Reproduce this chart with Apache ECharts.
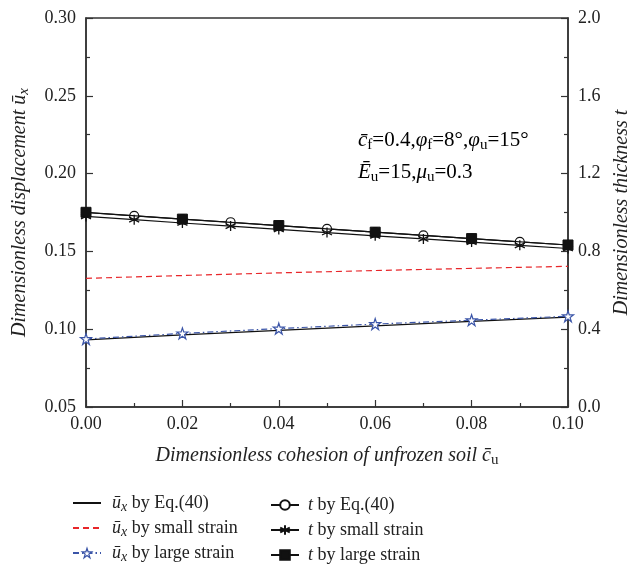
<!DOCTYPE html>
<html>
<head>
<meta charset="utf-8">
<script src="https://cdn.jsdelivr.net/npm/echarts@6/dist/echarts.min.js"></script>
<style>
  html, body { margin: 0; padding: 0; background: #fff; }
  #chart { width: 630px; height: 569px; }
</style>
</head>
<body>
<div id="chart"></div>
<script>
// Dimensionless cohesion of unfrozen soil (x values)
const cuCoarse = [0.00, 0.02, 0.04, 0.06, 0.08, 0.10];
const cuFine = [0.00, 0.01, 0.02, 0.03, 0.04, 0.05, 0.06, 0.07, 0.08, 0.09, 0.10];

// Dimensionless displacement (left axis)
const uxEq40 = [0.0932, 0.0963, 0.0993, 0.1022, 0.1050, 0.1078];
const uxSmall = [0.1327, 0.1345, 0.1362, 0.1377, 0.1391, 0.1404];
const uxLarge = [0.0937, 0.0973, 0.1004, 0.1033, 0.1058, 0.1083];

// Dimensionless thickness (right axis)
const tEq40 = [1.000, 0.983, 0.966, 0.950, 0.933, 0.916, 0.899, 0.882, 0.866, 0.849, 0.833];
const tSmall = [0.980, 0.963, 0.946, 0.930, 0.913, 0.897, 0.880, 0.864, 0.848, 0.831, 0.815];
const tLarge = [1.001, 0.966, 0.933, 0.899, 0.866, 0.833];

// Axis tick settings
const xTicks = { min: 0, max: 0.10, interval: 0.02, digits: 2 };
const yLeftTicks = { min: 0.05, max: 0.30, interval: 0.05, digits: 2 };
const yRightTicks = { min: 0, max: 2.0, interval: 0.4, digits: 1 };

const FONT = '"Liberation Serif", "DejaVu Serif", serif';
const AXIS_COLOR = '#333';
const TEXT_COLOR = '#222';
const BLUE = '#3b55a8';

function pairs(xs, ys) { return xs.map((x, i) => [x, ys[i]]); }

const starPath = 'path://M50,3 L61,37 L97,37 L68,59 L79,94 L50,72 L21,94 L32,59 L3,37 L39,37 Z';
const asteriskPath = 'path://M50,0 L50,100 M7,25 L93,75 M93,25 L7,75';

function richSet(size, subSize, lh, subPad) {
  return {
    i: { fontFamily: FONT, fontStyle: 'italic', fontSize: size, color: TEXT_COLOR, lineHeight: lh },
    r: { fontFamily: FONT, fontStyle: 'normal', fontSize: size, color: TEXT_COLOR, lineHeight: lh },
    sx: { fontFamily: FONT, fontStyle: 'italic', fontSize: subSize, color: TEXT_COLOR, padding: [subPad, 0, 0, 0] },
    su: { fontFamily: FONT, fontStyle: 'normal', fontSize: subSize, color: TEXT_COLOR, padding: [subPad, 0, 0, 0] }
  };
}

const legendRich = richSet(18, 14, 24, 9);
const noteRich = richSet(21, 15, 32, 10);

const legendLabels = {
  'ux by Eq.(40)': '{i|ū}{sx|x}{r| by Eq.(40)}',
  'ux by small strain': '{i|ū}{sx|x}{r| by small strain}',
  'ux by large strain': '{i|ū}{sx|x}{r| by large strain}',
  't by Eq.(40)': '{i|t}{r| by Eq.(40)}',
  't by small strain': '{i|t}{r| by small strain}',
  't by large strain': '{i|t}{r| by large strain}'
};

function axisCommon(t) {
  return {
    type: 'value',
    min: t.min, max: t.max, interval: t.interval,
    axisLine: { show: true, lineStyle: { color: AXIS_COLOR, width: 1.5 } },
    axisTick: { show: true, inside: true, length: 7, lineStyle: { color: AXIS_COLOR, width: 1.2 } },
    minorTick: { show: true, splitNumber: 2, length: 4, lineStyle: { color: AXIS_COLOR, width: 1.2 } },
    splitLine: { show: false },
    axisLabel: {
      fontFamily: FONT, fontSize: 18, color: TEXT_COLOR, margin: 10,
      formatter: v => v.toFixed(t.digits)
    },
    nameLocation: 'middle',
    nameTextStyle: { fontFamily: FONT, fontStyle: 'italic', fontSize: 20, color: TEXT_COLOR }
  };
}

const chart = echarts.init(document.getElementById('chart'), null, { renderer: 'canvas' });

const hideSymbol = { opacity: 0 };

const option = {
  backgroundColor: '#fff',
  animation: false,
  grid: {
    left: 86, right: 62, top: 18, bottom: 162,
    outerBoundsMode: 'none', containLabel: false,
    show: true, borderColor: AXIS_COLOR, borderWidth: 1.5
  },
  xAxis: Object.assign(axisCommon(xTicks), {
    name: 'Dimensionless cohesion of unfrozen soil c\u0304{su|u}',
    nameGap: 36,
    nameTextStyle: {
      fontFamily: FONT, fontStyle: 'italic', fontSize: 20, color: TEXT_COLOR,
      rich: { su: { fontFamily: FONT, fontStyle: 'normal', fontSize: 15, color: TEXT_COLOR, padding: [10, 0, 0, 0] } }
    },
    axisLabel: { fontFamily: FONT, fontSize: 18, color: TEXT_COLOR, margin: 8, formatter: v => v.toFixed(2) }
  }),
  yAxis: [
    Object.assign(axisCommon(yLeftTicks), {
      position: 'left',
      name: 'Dimensionless displacement ū{sx|x}',
      nameGap: 54,
      nameRotate: 90,
      nameTextStyle: {
        fontFamily: FONT, fontStyle: 'italic', fontSize: 20, color: TEXT_COLOR,
        rich: { sx: { fontFamily: FONT, fontStyle: 'italic', fontSize: 15, color: TEXT_COLOR, padding: [10, 0, 0, 0] } }
      }
    }),
    Object.assign(axisCommon(yRightTicks), {
      position: 'right',
      name: 'Dimensionless thickness t',
      nameGap: 42,
      nameRotate: 90
    })
  ],
  legend: [
    {
      orient: 'vertical', left: 67, top: 489, height: 90,
      itemWidth: 28, itemHeight: 12, itemGap: 4.5,
      data: [
        { name: 'ux by Eq.(40)', itemStyle: hideSymbol },
        { name: 'ux by small strain', itemStyle: hideSymbol },
        { name: 'ux by large strain', itemStyle: { color: '#fff', borderColor: BLUE, borderWidth: 1.2 } }
      ],
      formatter: n => legendLabels[n],
      textStyle: { rich: legendRich, padding: [0, 0, 0, 6] }
    },
    {
      orient: 'vertical', left: 265, top: 491, height: 90,
      itemWidth: 28, itemHeight: 12, itemGap: 7,
      data: ['t by Eq.(40)', 't by small strain', 't by large strain'],
      formatter: n => legendLabels[n],
      textStyle: { rich: legendRich, padding: [0, 0, 0, 4] }
    }
  ],
  graphic: [
    {
      type: 'text', left: 358, top: 130,
      style: {
        text: '{i|c\u0304}{su|f}{r|=0.4,}{i|φ}{su|f}{r|=8°,}{i|φ}{su|u}{r|=15°}\n{i|Ē}{su|u}{r|=15,}{i|μ}{su|u}{r|=0.3}',
        rich: noteRich
      }
    }
  ],
  series: [
    {
      name: 'ux by Eq.(40)', type: 'line', yAxisIndex: 0,
      data: pairs(cuCoarse, uxEq40), symbol: 'none',
      lineStyle: { color: '#111', width: 1.2 }, itemStyle: { color: '#111' }, z: 3
    },
    {
      name: 'ux by small strain', type: 'line', yAxisIndex: 0,
      data: pairs(cuCoarse, uxSmall), symbol: 'none',
      lineStyle: { color: '#e8262a', width: 1.2, type: [6, 4] }, itemStyle: { color: '#e8262a' }
    },
    {
      name: 'ux by large strain', type: 'line', yAxisIndex: 0,
      data: pairs(cuCoarse, uxLarge), symbol: starPath, symbolSize: 11,
      lineStyle: { color: BLUE, width: 1.2, type: [6, 3, 1.5, 3] },
      itemStyle: { color: '#fff', borderColor: BLUE, borderWidth: 1.2 }, z: 4
    },
    {
      name: 't by Eq.(40)', type: 'line', yAxisIndex: 1,
      data: pairs(cuFine, tEq40), symbol: 'circle', symbolSize: 9,
      lineStyle: { color: '#111', width: 1.2 },
      itemStyle: { color: '#fff', borderColor: '#111', borderWidth: 1.2 }, z: 3
    },
    {
      name: 't by small strain', type: 'line', yAxisIndex: 1,
      data: pairs(cuFine, tSmall), symbol: asteriskPath, symbolSize: 10,
      lineStyle: { color: '#111', width: 1.2 },
      itemStyle: { color: 'none', borderColor: '#111', borderWidth: 1.3 }, z: 3
    },
    {
      name: 't by large strain', type: 'line', yAxisIndex: 1,
      data: pairs(cuCoarse, tLarge), symbol: 'rect', symbolSize: 10,
      lineStyle: { color: '#111', width: 1.2 },
      itemStyle: { color: '#111', borderColor: '#111', borderWidth: 1 }, z: 5
    }
  ]
};

chart.setOption(option);
</script>
</body>
</html>
